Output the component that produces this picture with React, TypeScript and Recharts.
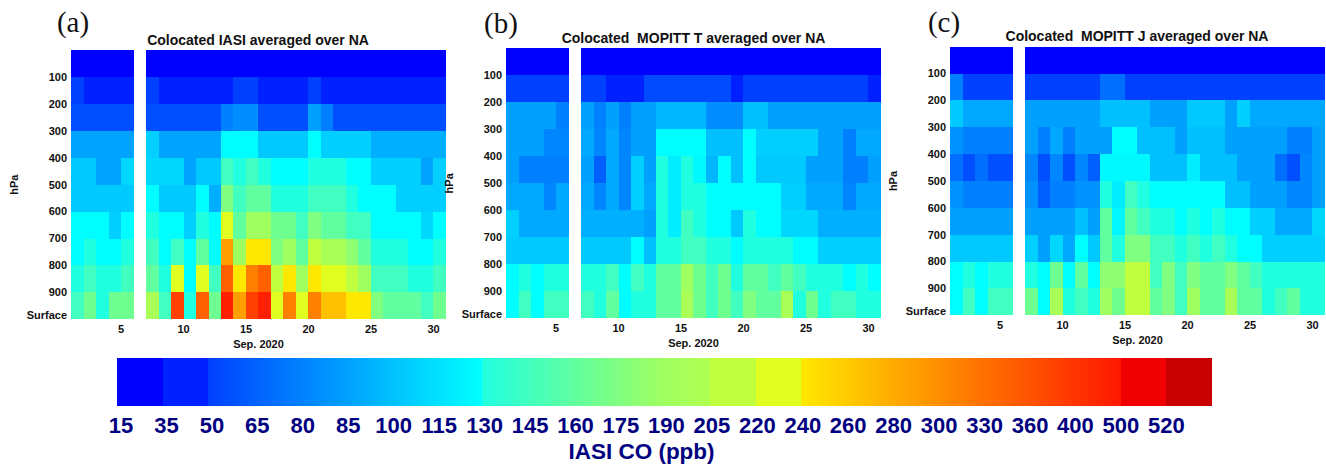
import React from "react";
import { BarChart, Bar, Cell, XAxis, YAxis } from "recharts";

const N = null;

const days = Array.from({ length: 30 }, (_, i) => i + 1);
const pressureTicks = [100, 200, 300, 400, 500, 600, 700, 800, 900, 985];
const dayTicks = [5, 10, 15, 20, 25, 30];

// rows run from the top of the atmosphere to the surface, one value (ppb) per day; day 6 is missing
const iasiRows: (number | null)[][] = [
  [15,15,15,15,15,N,15,15,15,15,15,15,15,15,15,15,15,15,15,15,15,15,15,15,15,15,15,15,15,15],
  [50,35,35,35,35,N,50,35,35,35,35,35,35,50,50,35,35,35,35,50,35,35,35,35,35,35,35,35,35,35],
  [57,57,57,57,57,N,57,57,57,57,57,57,80,82,82,57,57,57,57,85,80,57,57,57,57,57,57,57,57,57],
  [87,87,87,87,87,N,107,87,87,87,87,87,129,129,129,104,104,104,104,129,107,107,107,107,92,92,92,92,92,92],
  [104,104,87,87,111,N,111,111,111,87,104,104,145,130,145,130,129,129,129,130,130,130,129,129,107,107,107,107,87,107],
  [104,104,104,104,104,N,129,104,104,104,129,92,175,145,160,160,130,130,130,145,145,145,130,129,129,129,107,107,107,107],
  [129,129,129,107,129,N,130,129,129,107,130,129,220,160,190,190,167,167,145,175,160,160,145,145,129,129,129,129,111,129],
  [129,130,129,129,130,N,145,129,145,129,160,129,288,190,240,240,175,190,160,205,198,198,182,160,130,130,130,129,129,130],
  [130,145,130,130,145,N,160,130,220,129,220,145,347,240,315,347,205,240,190,240,220,220,205,190,145,145,145,130,130,145],
  [145,167,130,167,167,N,198,145,384,130,347,167,471,288,384,471,220,315,220,315,267,267,240,240,175,160,160,160,145,167],
];

const mopittTRows: (number | null)[][] = [
  [15,15,15,15,15,N,15,15,15,15,15,15,15,15,15,15,15,15,15,15,15,15,15,15,15,15,15,15,15,15],
  [50,50,50,50,50,N,50,50,35,35,35,55,55,55,55,55,55,55,35,50,50,50,50,50,50,50,50,50,50,35],
  [85,85,85,85,80,N,85,80,85,80,85,85,96,96,96,96,82,82,82,100,100,85,85,85,85,85,85,85,85,85],
  [85,85,85,81,81,N,89,81,89,81,85,85,129,129,129,129,100,100,100,129,107,107,107,107,107,85,85,80,89,89],
  [85,80,80,80,80,N,85,65,89,81,107,85,130,122,130,127,96,129,100,129,104,104,104,104,85,85,85,80,80,85],
  [89,89,89,81,89,N,89,81,89,81,107,89,130,122,130,130,129,129,129,129,129,129,107,107,89,89,89,81,89,89],
  [107,89,89,89,89,N,92,92,92,92,92,85,130,122,145,130,129,129,104,130,129,129,111,111,111,92,92,92,92,92],
  [104,104,104,104,104,N,104,104,104,104,129,100,130,130,145,145,130,130,129,130,130,130,130,129,129,107,107,107,107,107],
  [129,130,129,130,130,N,130,130,145,129,145,130,160,160,190,167,145,167,130,160,160,145,160,145,130,130,130,129,130,129],
  [129,145,129,145,145,N,145,130,160,129,130,130,160,160,198,167,145,167,145,175,160,160,198,130,167,130,145,145,130,130],
];

const mopittJRows: (number | null)[][] = [
  [15,15,15,15,15,N,15,15,15,15,15,15,15,15,15,15,15,15,15,15,15,15,15,15,15,15,15,15,15,15],
  [80,50,50,50,50,N,50,50,50,50,50,50,72,72,50,50,50,50,50,50,50,50,50,50,50,50,50,50,50,50],
  [104,89,89,89,89,N,85,85,85,85,85,85,100,100,100,100,85,85,85,104,104,104,85,107,89,89,89,89,89,89],
  [83,80,80,80,80,N,85,80,89,80,85,85,85,129,129,100,100,100,85,100,100,100,85,85,85,85,85,80,80,85],
  [72,57,72,57,57,N,81,57,81,57,81,65,127,127,127,127,100,100,100,122,100,100,100,85,85,85,72,57,81,85],
  [83,80,80,80,80,N,83,65,80,80,83,83,130,122,145,130,129,129,129,129,129,129,100,100,85,85,85,81,81,85],
  [85,85,85,85,85,N,85,85,85,85,100,85,160,126,160,145,130,130,129,130,129,130,129,129,107,107,89,89,89,111],
  [104,104,104,104,104,N,107,85,111,89,129,104,160,130,175,175,145,145,130,145,130,145,130,129,129,107,107,107,107,107],
  [129,130,129,130,130,N,130,129,167,129,160,129,182,182,205,205,145,175,145,175,160,160,175,160,145,130,130,130,130,130],
  [129,145,129,145,145,N,167,129,198,130,145,130,190,167,205,205,160,175,145,190,160,160,198,160,160,130,145,160,130,130],
];

const levelLabels = [15,35,50,65,80,85,100,115,130,145,160,175,190,205,220,240,260,280,300,330,360,400,500,520];
const levelStart = ["#0000ff","#0020ff","#0040ff","#0060ff","#0080ff","#00a0ff","#00c0ff","#00e0ff","#20ffe0","#40ffc0","#60ffa0","#80ff80","#a0ff60","#c0ff40","#e0ff20","#ffe800","#ffcb00","#ffac00","#ff8f00","#ff7000","#ff5300","#ff3400","#f00000","#c80000"];
const levelEnd = ["#0000ff","#0020ff","#0060ff","#0080ff","#00a0ff","#00c0ff","#00e0ff","#00ffff","#40ffc0","#60ffa0","#80ff80","#a0ff60","#b0ff50","#c0ff40","#e0ff20","#ffcb00","#ffac00","#ff8f00","#ff7000","#ff5300","#ff3400","#ff1800","#f00000","#c80000"];

const hex = (s: string) => [1, 3, 5].map((i) => parseInt(s.slice(i, i + 2), 16));

function colorOf(v: number) {
  let i = levelLabels.length - 1;
  while (i > 0 && v < levelLabels[i]) i--;
  const hi = levelLabels[i + 1] ?? levelLabels[i] + 1;
  const t = Math.min(1, (v - levelLabels[i]) / (hi - levelLabels[i]));
  const a = hex(levelStart[i]);
  const b = hex(levelEnd[i]);
  return `rgb(${a.map((c, k) => Math.round(c + (b[k] - c) * t)).join(",")})`;
}

const LAYER = 100;
const PLOT_W = 375;
const LEFT = 70;

function Panel({ rows, plotLeft, plotTop, plotH }: { rows: (number | null)[][]; plotLeft: number; plotTop: number; plotH: number }) {
  const table = days.map((d, di) => {
    const row: Record<string, number | null> = { day: d };
    rows.forEach((r, ri) => {
      row[`layer${ri}`] = r[di] === null ? null : LAYER;
    });
    return row;
  });
  const axisFont = { fontFamily: "'Liberation Sans', sans-serif", fontWeight: 700, fontSize: 11, fill: "#111" };
  return (
    <div style={{ position: "absolute", left: plotLeft - LEFT, top: 0 }}>
      <BarChart
        width={LEFT + PLOT_W + 5}
        height={plotTop + plotH + 32}
        data={table}
        margin={{ top: plotTop, left: 0, right: 5, bottom: 0 }}
        barCategoryGap={0}
        barGap={0}
      >
        <XAxis
          dataKey="day"
          type="category"
          ticks={dayTicks}
          interval={0}
          tickLine={false}
          axisLine={false}
          tick={{ ...axisFont, dx: -6.25 }}
          tickMargin={0}
          height={32}
          label={{ value: "Sep. 2020", position: "insideBottom", offset: 3, style: axisFont }}
        />
        <YAxis
          type="number"
          reversed
          domain={[0, 1000]}
          ticks={pressureTicks}
          interval={0}
          width={LEFT}
          tickLine={false}
          axisLine={false}
          tick={{ ...axisFont, dx: 2 }}
          tickMargin={0}
          tickFormatter={(v: number) => (v === 985 ? "Surface" : String(v))}
          label={{ value: "hPa", angle: -90, position: "insideLeft", offset: 13, style: { ...axisFont, textAnchor: "middle" } }}
        />
        {rows.map((r, ri) => (
          <Bar key={ri} dataKey={`layer${ri}`} stackId="column" isAnimationActive={false}>
            {r.map((v, di) => (
              <Cell key={di} fill={v === null ? "#ffffff" : colorOf(v)} shapeRendering="crispEdges" />
            ))}
          </Bar>
        ))}
      </BarChart>
    </div>
  );
}

function ColorTick({ x, y, payload }: { x: number; y: number; payload: { value: number } }) {
  const i = payload.value;
  return (
    <text
      x={x + 4 - (4 * i) / 23}
      y={y + 5}
      dy="0.71em"
      textAnchor="middle"
      fontFamily="'Liberation Sans', sans-serif"
      fontWeight={700}
      fontSize={22}
      fill="#000080"
    >
      {levelLabels[i]}
    </text>
  );
}

function ColorBar() {
  const row: Record<string, number | string> = { name: "CO" };
  levelLabels.forEach((_, i) => {
    row[`seg${i}`] = 1;
  });
  return (
    <div style={{ position: "absolute", left: 0, top: 358 }}>
      <BarChart
        layout="vertical"
        width={1326}
        height={107}
        data={[row]}
        margin={{ top: 0, left: 117, right: 114, bottom: 0 }}
        barCategoryGap={0}
      >
        <defs>
          {levelLabels.map((_, i) => (
            <linearGradient key={i} id={`grad${i}`} x1="0" y1="0" x2="1" y2="0">
              <stop offset="0" stopColor={levelStart[i]} />
              <stop offset="1" stopColor={levelEnd[i]} />
            </linearGradient>
          ))}
        </defs>
        <XAxis
          type="number"
          domain={[0, 24]}
          ticks={levelLabels.map((_, i) => i)}
          interval={0}
          tickLine={false}
          axisLine={false}
          tick={ColorTick as any}
          tickMargin={0}
          height={59}
          label={{
            value: "IASI CO (ppb)",
            position: "insideBottom",
            offset: 6,
            dx: -23,
            style: { fontFamily: "'Liberation Sans', sans-serif", fontWeight: 700, fontSize: 22.5, fill: "#000080" },
          }}
        />
        <YAxis type="category" dataKey="name" hide />
        {levelLabels.map((_, i) => (
          <Bar key={i} dataKey={`seg${i}`} stackId="bar" isAnimationActive={false}>
            <Cell fill={`url(#grad${i})`} shapeRendering="crispEdges" />
          </Bar>
        ))}
      </BarChart>
    </div>
  );
}

const titleStyle: React.CSSProperties = {
  position: "absolute",
  transform: "translate(-50%, -50%)",
  whiteSpace: "pre",
  fontFamily: "'Liberation Sans', sans-serif",
  fontWeight: 700,
  fontSize: 14,
  color: "#111",
};
const letterStyle: React.CSSProperties = {
  position: "absolute",
  transform: "translate(-50%, -50%)",
  fontFamily: "'Liberation Serif', serif",
  fontSize: 29,
  color: "#111",
};

export default function App() {
  return (
    <div style={{ position: "absolute", left: 0, top: 0, width: 1326, height: 465, overflow: "hidden", background: "#fff" }}>
      <Panel rows={iasiRows} plotLeft={70.7} plotTop={50} plotH={269.3} />
      <Panel rows={mopittTRows} plotLeft={506} plotTop={48.3} plotH={270} />
      <Panel rows={mopittJRows} plotLeft={950} plotTop={46.7} plotH={268.6} />
      <ColorBar />
      <div style={{ ...letterStyle, left: 73, top: 22 }}>(a)</div>
      <div style={{ ...letterStyle, left: 501, top: 23 }}>(b)</div>
      <div style={{ ...letterStyle, left: 944, top: 22 }}>(c)</div>
      <div style={{ ...titleStyle, left: 258, top: 40 }}>Colocated IASI averaged over NA</div>
      <div style={{ ...titleStyle, left: 693.5, top: 38 }}>{"Colocated  MOPITT T averaged over NA"}</div>
      <div style={{ ...titleStyle, left: 1137, top: 36 }}>{"Colocated  MOPITT J averaged over NA"}</div>
    </div>
  );
}
